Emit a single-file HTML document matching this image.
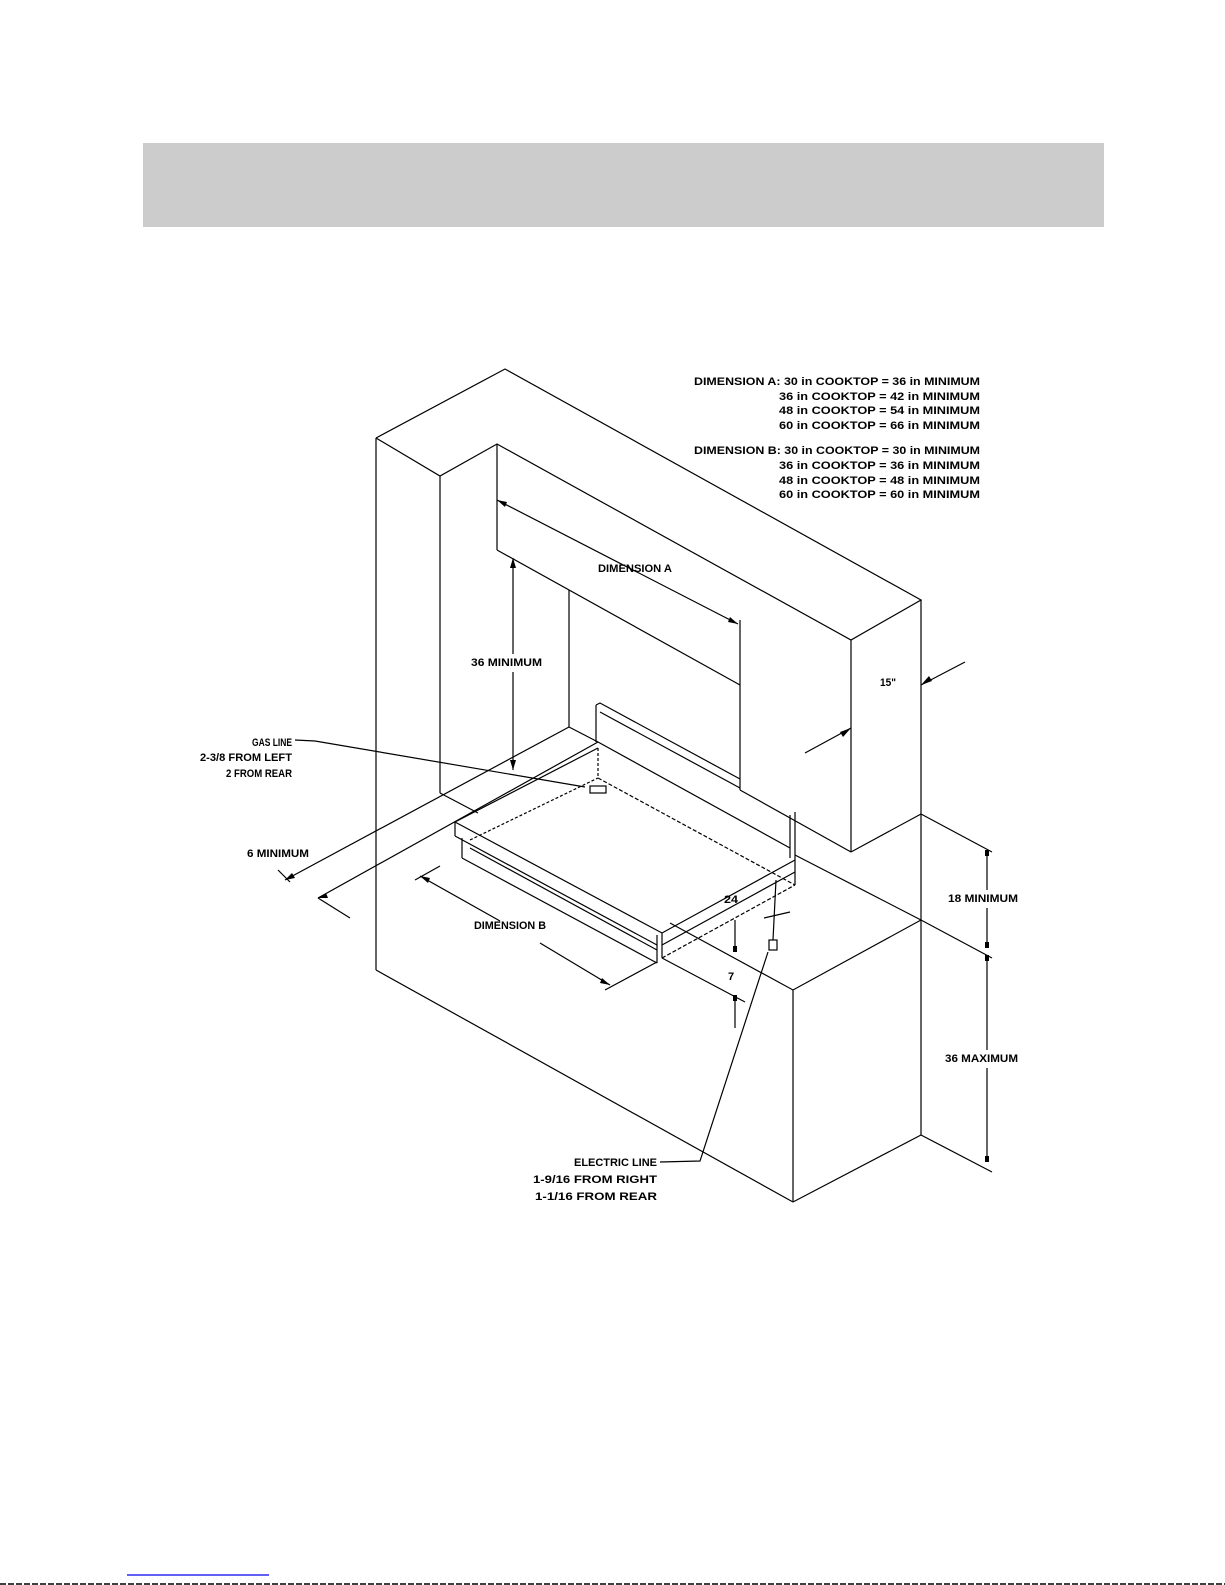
<!DOCTYPE html>
<html><head><meta charset="utf-8"><style>
html,body{margin:0;padding:0;background:#fff;}
body{width:1225px;height:1585px;position:relative;overflow:hidden;}
#band{position:absolute;left:143px;top:143px;width:961px;height:84px;background:#cccccc;}
svg{position:absolute;left:0;top:0;}
text{font-family:"Liberation Sans",sans-serif;font-weight:bold;font-size:11px;fill:#000;}
</style></head><body>
<div id="band"></div>
<svg width="1225" height="1585" viewBox="0 0 1225 1585">
<g stroke="#000" stroke-width="1.2" fill="none">
<polyline points="376,438 505,369 921,600 851,640 497,444 440,476 376,438"/>
<line x1="376" y1="438" x2="376" y2="970"/>
<line x1="440" y1="476" x2="440" y2="793"/>
<line x1="497" y1="444" x2="497" y2="550"/>
<line x1="851" y1="640" x2="851" y2="852"/>
<line x1="921" y1="600" x2="921" y2="1135"/>
<line x1="497" y1="550" x2="740" y2="685"/>
<line x1="569" y1="590" x2="569" y2="727"/>
<line x1="740" y1="620" x2="740" y2="790"/>
<line x1="740" y1="790" x2="851" y2="852"/>
<line x1="851" y1="852" x2="921" y2="814"/>
<line x1="921" y1="814" x2="992" y2="852"/>
<line x1="497" y1="500" x2="738" y2="624"/>
<line x1="513" y1="558" x2="513" y2="654"/>
<line x1="513" y1="672" x2="513" y2="770"/>
<line x1="569" y1="727" x2="285" y2="880"/>
<line x1="598" y1="742" x2="318" y2="898"/>
<line x1="569" y1="727" x2="598" y2="742"/>
<line x1="440" y1="793" x2="478" y2="813"/>
<line x1="278" y1="870" x2="290" y2="882"/>
<line x1="318" y1="898" x2="350" y2="918"/>
<line x1="596" y1="705" x2="596" y2="742"/>
<polyline points="596,705 600,703 740,779"/>
<line x1="600" y1="712" x2="740" y2="788"/>
<line x1="598" y1="742" x2="790" y2="848"/>
<!-- cooktop -->
<polyline points="455,822 662,933 795,860"/>
<line x1="455" y1="822" x2="598" y2="748"/>
<line x1="598" y1="748" x2="598" y2="778" stroke-dasharray="3,2"/>
<line x1="598" y1="778" x2="795" y2="885" stroke-dasharray="4,2"/>
<line x1="470" y1="840" x2="598" y2="778" stroke-dasharray="3,2"/>
<line x1="455" y1="822" x2="455" y2="836"/>
<line x1="455" y1="836" x2="657" y2="945"/>
<line x1="462" y1="838" x2="462" y2="858"/>
<line x1="462" y1="858" x2="657" y2="963"/>
<line x1="470" y1="848" x2="657" y2="950"/>
<line x1="662" y1="933" x2="662" y2="958"/>
<line x1="657" y1="935" x2="657" y2="963"/>
<line x1="790" y1="815" x2="790" y2="858"/>
<line x1="795" y1="812" x2="795" y2="885"/>
<line x1="662" y1="945" x2="795" y2="872"/>
<line x1="662" y1="958" x2="795" y2="885" stroke-dasharray="4,2"/>
<line x1="420" y1="876" x2="500" y2="921"/>
<line x1="540" y1="943" x2="610" y2="985"/>
<line x1="605" y1="990" x2="657" y2="962"/>
<line x1="415" y1="880" x2="440" y2="866"/>
<line x1="735" y1="920" x2="735" y2="952"/>
<line x1="735" y1="995" x2="735" y2="1028"/>
<line x1="662" y1="958" x2="745" y2="1002"/>
<line x1="376" y1="970" x2="793" y2="1202"/>
<line x1="793" y1="990" x2="793" y2="1202"/>
<polyline points="670,923 793,990 921,920"/>
<line x1="795" y1="855" x2="921" y2="920"/>
<line x1="921" y1="920" x2="992" y2="958"/>
<line x1="793" y1="1202" x2="921" y2="1135"/>
<line x1="921" y1="1135" x2="992" y2="1172"/>
<line x1="987" y1="850" x2="987" y2="890"/>
<line x1="987" y1="908" x2="987" y2="948"/>
<line x1="987" y1="955" x2="987" y2="1050"/>
<line x1="987" y1="1068" x2="987" y2="1162"/>
<line x1="805" y1="753" x2="851" y2="728"/>
<line x1="921" y1="685" x2="965" y2="662"/>
<polyline points="295,740 315,741 585,787"/>
<rect x="590" y="786" width="16" height="7"/>
<polyline points="660,1162 700,1161 768,952"/>
<rect x="769" y="940" width="8" height="10"/>
<line x1="773" y1="940" x2="776" y2="880"/>
<line x1="764" y1="918" x2="790" y2="912"/>
</g>
<g fill="#000">
<polygon points="497,500 507,502 505,507"/>
<polygon points="738,624 728,622 730,617"/>
<polygon points="513,558 510,568 516,568"/>
<polygon points="513,770 510,760 516,760"/>
<polygon points="285,880 292,873 295,878"/>
<polygon points="318,898 326,893 328,898"/>
<polygon points="851,728 843,737 840,732"/>
<polygon points="921,685 929,676 932,681"/>
<polygon points="420,876 430,878 428,883"/>
<polygon points="610,985 600,983 602,978"/>
<rect x="985" y="850" width="4" height="6"/><rect x="985" y="942" width="4" height="6"/>
<rect x="985" y="955" width="4" height="6"/><rect x="985" y="1156" width="4" height="6"/>
<rect x="733" y="946" width="4" height="6"/><rect x="733" y="995" width="4" height="6"/>
</g>
<g>
<text x="980" y="385" text-anchor="end" textLength="286" lengthAdjust="spacingAndGlyphs">DIMENSION A: 30 in COOKTOP = 36 in MINIMUM</text>
<text x="980" y="400" text-anchor="end" textLength="201" lengthAdjust="spacingAndGlyphs">36 in COOKTOP = 42 in MINIMUM</text>
<text x="980" y="414" text-anchor="end" textLength="201" lengthAdjust="spacingAndGlyphs">48 in COOKTOP = 54 in MINIMUM</text>
<text x="980" y="429" text-anchor="end" textLength="201" lengthAdjust="spacingAndGlyphs">60 in COOKTOP = 66 in MINIMUM</text>
<text x="980" y="454" text-anchor="end" textLength="286" lengthAdjust="spacingAndGlyphs">DIMENSION B: 30 in COOKTOP = 30 in MINIMUM</text>
<text x="980" y="469" text-anchor="end" textLength="201" lengthAdjust="spacingAndGlyphs">36 in COOKTOP = 36 in MINIMUM</text>
<text x="980" y="484" text-anchor="end" textLength="201" lengthAdjust="spacingAndGlyphs">48 in COOKTOP = 48 in MINIMUM</text>
<text x="980" y="498" text-anchor="end" textLength="201" lengthAdjust="spacingAndGlyphs">60 in COOKTOP = 60 in MINIMUM</text>
<text x="598" y="572" textLength="74" lengthAdjust="spacingAndGlyphs">DIMENSION A</text>
<text x="471" y="666" textLength="71" lengthAdjust="spacingAndGlyphs">36 MINIMUM</text>
<text x="880" y="686" textLength="16" lengthAdjust="spacingAndGlyphs">15"</text>
<text x="292" y="746" text-anchor="end" textLength="40" lengthAdjust="spacingAndGlyphs">GAS LINE</text>
<text x="292" y="761" text-anchor="end" textLength="92" lengthAdjust="spacingAndGlyphs">2-3/8 FROM LEFT</text>
<text x="292" y="777" text-anchor="end" textLength="66" lengthAdjust="spacingAndGlyphs">2 FROM REAR</text>
<text x="247" y="857" textLength="62" lengthAdjust="spacingAndGlyphs">6 MINIMUM</text>
<text x="474" y="929" textLength="72" lengthAdjust="spacingAndGlyphs">DIMENSION B</text>
<text x="724" y="903" textLength="14" lengthAdjust="spacingAndGlyphs">24</text>
<text x="728" y="980">7</text>
<text x="948" y="902" textLength="70" lengthAdjust="spacingAndGlyphs">18 MINIMUM</text>
<text x="945" y="1062" textLength="73" lengthAdjust="spacingAndGlyphs">36 MAXIMUM</text>
<text x="657" y="1166" text-anchor="end" textLength="83" lengthAdjust="spacingAndGlyphs">ELECTRIC LINE</text>
<text x="657" y="1183" text-anchor="end" textLength="124" lengthAdjust="spacingAndGlyphs">1-9/16 FROM RIGHT</text>
<text x="657" y="1200" text-anchor="end" textLength="122" lengthAdjust="spacingAndGlyphs">1-1/16 FROM REAR</text>
</g>
<line x1="127" y1="1575" x2="269" y2="1575" stroke="#0000ee" stroke-width="1.2"/>
<line x1="0" y1="1584" x2="1225" y2="1584" stroke="#000" stroke-width="1.5" stroke-dasharray="6,2"/>
</svg>
</body></html>
